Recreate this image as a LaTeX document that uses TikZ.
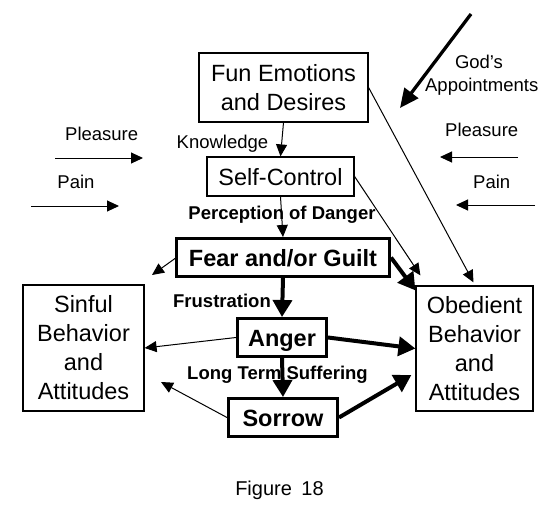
\documentclass[tikz,border=0pt]{standalone}
\usepackage{fontspec}
\setmainfont{Liberation Sans}
\usetikzlibrary{arrows.meta}
\begin{document}
\begin{tikzpicture}[x=1pt,y=-1pt,
  bigfont/.style={font=\fontsize{23.5}{29}\selectfont},
  box/.style={draw, line width=1.2pt, bigfont, align=center, inner sep=0pt},
  onebox/.style={box, text height=17pt, text depth=0pt},
  strongbox/.style={draw, line width=3pt, font=\fontsize{23.5}{29}\selectfont\bfseries, inner sep=0pt, text height=17pt, text depth=0pt},
  lbl/.style={font=\fontsize{18.5}{22}\selectfont, inner sep=0pt, text height=13.2pt, text depth=0pt},
  blbl/.style={lbl, font=\fontsize{18.5}{22}\selectfont\bfseries},
  thin/.style={line width=1pt, -{Triangle[length=12pt,width=11pt]}},
  heavy/.style={line width=4pt, -{Triangle[length=17pt,width=19pt]}},
  godarrow/.style={line width=3.3pt, -{Triangle[length=19pt,width=17pt]}}
]
\path[use as bounding box, fill=white] (0,0) rectangle (560,512);

% boxes
\node[box, minimum width=169pt, minimum height=69pt] (fun) at (283.5,87.5) {Fun Emotions\\and Desires};
\node[onebox, minimum width=147pt, minimum height=39pt] (self) at (280.5,176.5) {Self-Control};
\node[strongbox, minimum width=213pt, minimum height=38pt] (fear) at (283,257.5) {Fear and/or Guilt};
\node[strongbox, minimum width=89pt, minimum height=38pt] (anger) at (282,337.5) {Anger};
\node[strongbox, minimum width=109pt, minimum height=38pt] (sorrow) at (283,417.5) {Sorrow};
\node[box, minimum width=121pt, minimum height=126pt] (sinful) at (83.5,348) {Sinful\\Behavior\\and\\Attitudes};
\node[box, minimum width=117pt, minimum height=125pt] (obed) at (474.5,348.5) {Obedient\\Behavior\\and\\Attitudes};

% labels
\node[lbl] (know) at (222.5,142) {Knowledge};
\node[blbl] (perc) at (282,213) {Perception of Danger};
\node[blbl] (frus) at (222,301) {Frustration};
\node[blbl] (lts) at (277.5,373) {Long Term Suffering};
\node[lbl] (plL) at (101.7,134) {Pleasure};
\node[lbl] (paL) at (76,182) {Pain};
\node[lbl] (plR) at (481.7,130) {Pleasure};
\node[lbl] (paR) at (491.7,182) {Pain};
\node[lbl] (god) at (479,62) {God’s};
\node[lbl] (appt) at (481.7,85) {Appointments};
\node[font=\fontsize{20}{24}\selectfont, inner sep=0pt, text height=14.3pt, text depth=0pt] (fig) at (279.5,488) {Figure\hspace{4pt} 18};

% free coordinates
\coordinate (sintip) at (152,275);
\coordinate (sortip) at (161,382);
\coordinate (godA) at (471,14);
\coordinate (godB) at (400,108);
\coordinate (plLa) at (55,158);
\coordinate (plLb) at (143,158);
\coordinate (paLa) at (31,206);
\coordinate (paLb) at (119,206);
\coordinate (plRa) at (518,157);
\coordinate (plRb) at (440,157);
\coordinate (paRa) at (535,205);
\coordinate (paRb) at (456,205);

% connectors
\draw[thin] (fun.south) -- (self.north);
\draw[thin] (self.south) -- (fear.north);
\draw[heavy] (fear.south) -- (anger.north);
\draw[heavy] (anger.south) -- (sorrow.north);
\draw[thin] ([yshift=-1pt]fear.west) -- (sintip);
\draw[heavy] (fear.east) -- ([yshift=-5pt]obed.north west);
\draw[thin] (self.east) -- ([xshift=5pt,yshift=10pt]obed.north west);
\draw[thin] (fun.east) -- ([xshift=-1pt,yshift=3pt]obed.north);
\draw[godarrow] (godA) -- (godB);
\draw[thin] (plLa) -- (plLb);
\draw[thin] (paLa) -- (paLb);
\draw[thin] (plRa) -- (plRb);
\draw[thin] (paRa) -- (paRb);
\draw[thin] (anger.west) -- (sinful.east);
\draw[heavy] (anger.east) -- (obed.west);
\draw[thin] (sorrow.west) -- (sortip);
\draw[heavy] (sorrow.east) -- ([xshift=-4pt,yshift=-26.5pt]obed.west);
\end{tikzpicture}
\end{document}
